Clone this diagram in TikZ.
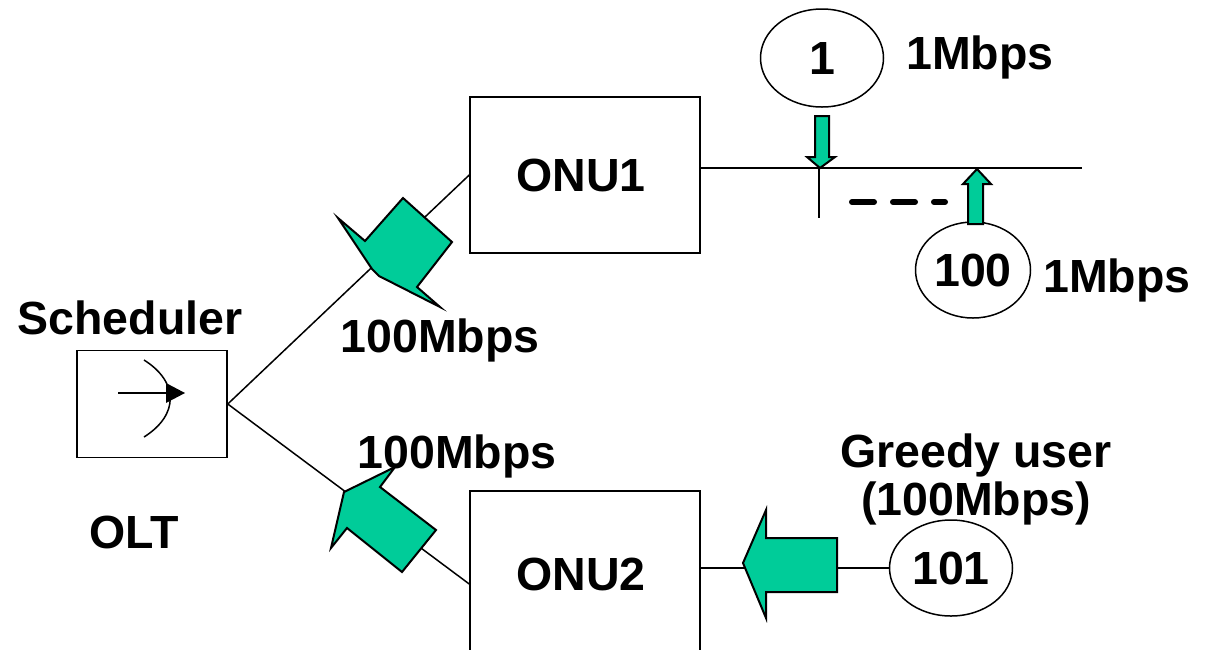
\documentclass[tikz,border=0pt]{standalone}
\usepackage{fontspec}
\setmainfont{Liberation Sans}
\usetikzlibrary{calc,shapes.geometric}
\definecolor{arrowgreen}{RGB}{0,204,153}
\begin{document}
\begin{tikzpicture}[x=1pt,y=-1pt,
  bigfont/.style={font=\fontsize{46.5}{52}\selectfont\bfseries},
  lbl/.style={bigfont, inner sep=0pt, anchor=base},
  box/.style={draw, line width=1.5pt, rectangle, inner sep=0pt, bigfont},
  ell/.style={draw, line width=1.5pt, ellipse, inner sep=0pt, bigfont},
  wire/.style={line width=1.5pt},
  blockarrow/.style={fill=arrowgreen, draw=black, line width=2pt, line join=miter}]
\useasboundingbox (0,0) rectangle (1218,649);

% boxes
\node[box, minimum width=150pt, minimum height=107pt] (sched) at (152,404) {};
\node[box, minimum width=230pt, minimum height=156pt] (onu1) at (585,175) {};
\node[box, minimum width=230pt, minimum height=170pt] (onu2) at (585,576) {};

% ellipses
\node[ell, minimum width=123pt, minimum height=98pt] (u1) at (822,58) {1};
\node[ell, minimum width=115pt, minimum height=96pt] (u100) at (973,270) {100};
\node[ell, minimum width=123pt, minimum height=96pt] (u101) at (951,568) {101};

% scheduler symbol
\draw[wire] (118,393) -- (168,393);
\fill (185,393) -- (166,383) -- (166,403) -- cycle;
\draw[wire] (144,360) .. controls (179,382) and (179,415) .. (144,437);

% connectors
\draw[wire] (sched.east) -- (onu1.west);
\draw[wire] (sched.east) -- ([yshift=-8pt]onu2.west);
\coordinate (busend) at (1082,168);
\coordinate (tap) at (819,168);
\coordinate (tapend) at (819,218);
\draw[wire] ([yshift=7pt]onu1.east) -- (busend);
\draw[wire] (tap) -- (tapend);
\draw[wire] (onu2.east |- u101.west) -- (u101.west);
\draw[line width=6pt, line cap=round, dash pattern=on 22pt off 19pt] (852,202) -- (945,202);

% block arrows
\draw[blockarrow] (338,218) -- (365,241) -- (403,198) -- (452,242) -- (417,287) -- (440,307) -- (379,276) -- (372,269) -- cycle;
\draw[blockarrow] (344,492) -- (395,467) -- (380,487) -- (436,530) -- (402,572) -- (347,528) -- (331,548) -- cycle;
\draw[blockarrow] (815,116) -- (829,116) -- (829,157) -- (835,157) -- (820,168) -- (807,157) -- (815,157) -- cycle;
\draw[blockarrow] (968,224) -- (983,224) -- (983,184) -- (991,184) -- (977,169) -- (963,184) -- (968,184) -- cycle;
\draw[blockarrow] (743,563) -- (766,510) -- (766,538) -- (837,538) -- (837,592) -- (766,592) -- (766,618) -- cycle;

% labels
\node[lbl] (tsched) at (130,334) {Scheduler};
\node[lbl] (tolt) at (134,548) {OLT};
\node[lbl] (tonu1) at (581,191) {ONU1};
\node[lbl] (tonu2) at (581,590) {ONU2};
\node[lbl] (r1) at (980,69) {1Mbps};
\node[lbl] (r100) at (1117,292) {1Mbps};
\node[lbl] (m1) at (440,352) {100Mbps};
\node[lbl] (m2) at (457,468) {100Mbps};
\node[lbl] (greedy) at (976,467) {Greedy user};
\node[lbl] (greedyrate) at (976,515) {(100Mbps)};
\end{tikzpicture}
\end{document}
